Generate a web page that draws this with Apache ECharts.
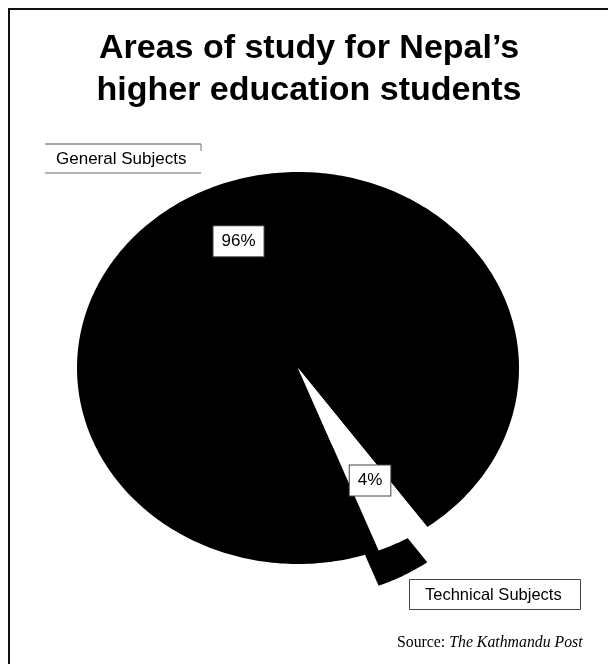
<!DOCTYPE html>
<html>
<head>
<meta charset="utf-8">
<title>Areas of study for Nepal's higher education students</title>
<script src="https://cdn.jsdelivr.net/npm/echarts@6/dist/echarts.min.js"></script>
<style>
    html, body { margin: 0; padding: 0; background: #fff; }
    #pieChart { width: 608px; height: 664px; }
</style>
</head>
<body>
<div id="pieChart"></div>
<script>
// data
var categories = ['General Subjects', 'Technical Subjects'];
var shares = [96, 4];
var sliceColors = ['#000', '#fff'];
var sourceName = 'The Kathmandu Post';

// look of the tilted pie
var startAngle = -68.6;        // degrees, slices run clockwise from here
var sideDepth = 0.18;          // thickness of the dark side, in radius units
var labelRadius = [0.70, 0.66];
var labelTurn = [-6, 1];       // small angular nudge for each percent box

var pieChart = echarts.init(document.getElementById('pieChart'));

/* ------- slice angles from the shares ------- */
var total = shares.reduce(function (a, b) { return a + b; }, 0);
var acc = 0;
var sliceData = categories.map(function (name, i) {
    var a0 = startAngle - acc / total * 360;
    acc += shares[i];
    var a1 = startAngle - acc / total * 360;
    return { name: name, value: [shares[i], a0, a1] };
});

function sectorPoints(api, a0, a1, drop) {
    var pts = [api.coord([0, -drop])];
    var n = Math.max(2, Math.ceil(Math.abs(a1 - a0)));
    for (var k = 0; k <= n; k++) {
        var a = (a0 + (a1 - a0) * k / n) * Math.PI / 180;
        pts.push(api.coord([Math.cos(a), Math.sin(a) - drop]));
    }
    return pts;
}

function renderSide(params, api) {
    // only the small slice shows its side
    if (params.dataIndex !== 1) return;
    return {
        type: 'polygon',
        shape: { points: sectorPoints(api, api.value(1), api.value(2), sideDepth) },
        style: { fill: '#000' }
    };
}

function renderTop(params, api) {
    var i = params.dataIndex;
    var a0 = api.value(1), a1 = api.value(2);
    var mid = ((a0 + a1) / 2 + labelTurn[i]) * Math.PI / 180;
    var at = api.coord([labelRadius[i] * Math.cos(mid), labelRadius[i] * Math.sin(mid)]);
    return {
        type: 'group',
        children: [
            {
                type: 'polygon',
                shape: { points: sectorPoints(api, a0, a1, 0) },
                style: { fill: sliceColors[i] }
            },
            {
                type: 'text',
                x: at[0],
                y: at[1],
                z2: 10,
                style: {
                    text: api.value(0) + '%',
                    fill: '#000',
                    font: '17px "Liberation Sans", Arial, sans-serif',
                    align: 'center',
                    verticalAlign: 'middle',
                    backgroundColor: '#fff',
                    borderColor: '#444',
                    borderWidth: 1,
                    padding: [7, 8, 6, 8]
                }
            }
        ]
    };
}

option = {
    backgroundColor: '#fff',
    animation: false,
    title: {
        text: 'Areas of study for Nepal\u2019s\nhigher education students',
        left: 309,
        textAlign: 'center',
        top: 28,
        padding: 0,
        textStyle: {
            color: '#000',
            fontSize: 34,
            fontWeight: 'bold',
            lineHeight: 42,
            fontFamily: 'Liberation Sans, Arial, sans-serif'
        }
    },
    grid: { left: 77, top: 172, width: 442, height: 392 },
    xAxis: { type: 'value', min: -1, max: 1, show: false },
    yAxis: { type: 'value', min: -1, max: 1, show: false },
    series: [
        {
            name: 'side',
            type: 'custom',
            silent: true,
            clip: false,
            renderItem: renderSide,
            data: sliceData
        },
        {
            name: 'areas',
            type: 'custom',
            silent: true,
            clip: false,
            renderItem: renderTop,
            data: sliceData
        }
    ],
    graphic: [
        // frame (left and top rule)
        {
            type: 'polyline',
            shape: { points: [[9, 664], [9, 9], [608, 9]] },
            style: { stroke: '#111', lineWidth: 2, fill: null }
        },
        // "General Subjects" tag
        {
            type: 'line',
            shape: { x1: 45, y1: 144, x2: 201, y2: 144 },
            style: { stroke: '#555', lineWidth: 1 }
        },
        {
            type: 'line',
            shape: { x1: 45, y1: 173, x2: 201, y2: 173 },
            style: { stroke: '#666', lineWidth: 1 }
        },
        {
            type: 'line',
            shape: { x1: 201, y1: 144, x2: 201, y2: 151 },
            style: { stroke: '#777', lineWidth: 1 }
        },
        {
            type: 'text',
            x: 56,
            y: 159,
            style: {
                text: categories[0],
                fill: '#000',
                font: '17px "Liberation Sans", Arial, sans-serif',
                verticalAlign: 'middle'
            }
        },
        // "Technical Subjects" tag
        {
            type: 'rect',
            shape: { x: 409.5, y: 579.5, width: 171, height: 30 },
            style: { fill: '#fff', stroke: '#444', lineWidth: 1 }
        },
        {
            type: 'text',
            x: 425,
            y: 595,
            style: {
                text: categories[1],
                fill: '#000',
                font: '16.5px "Liberation Sans", Arial, sans-serif',
                verticalAlign: 'middle'
            }
        },
        // source line
        {
            type: 'text',
            x: 397,
            y: 643,
            style: {
                text: '{a|Source: }{b|' + sourceName + '}',
                verticalAlign: 'middle',
                rich: {
                    a: { fill: '#000', fontSize: 15.8, fontFamily: 'Liberation Serif, Times New Roman, serif' },
                    b: { fill: '#000', fontSize: 15.8, fontStyle: 'italic', fontFamily: 'Liberation Serif, Times New Roman, serif' }
                }
            }
        }
    ]
};

pieChart.setOption(option);
</script>
</body>
</html>
